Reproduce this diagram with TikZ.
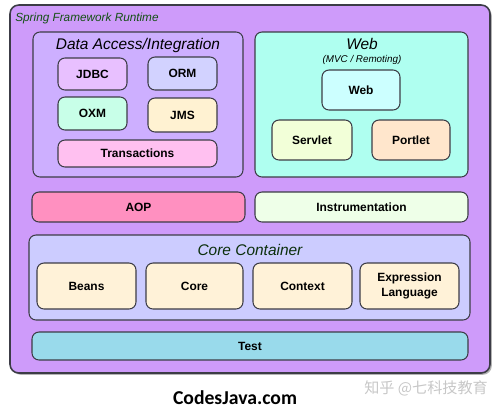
\documentclass[tikz,border=0pt]{standalone}
\usepackage{fontspec}
\setmainfont{Liberation Sans}
\newfontfamily\cjk{Noto Sans CJK SC}
\newfontfamily\calib{Carlito}
\usetikzlibrary{fit,positioning,shadows}
\definecolor{runbg}{RGB}{206,155,250}
\definecolor{dabg}{RGB}{205,175,255}
\definecolor{webbg}{RGB}{175,255,240}
\definecolor{corebg}{RGB}{204,204,255}
\definecolor{jdbcc}{RGB}{232,192,255}
\definecolor{ormc}{RGB}{210,210,255}
\definecolor{oxmc}{RGB}{200,255,232}
\definecolor{jmsc}{RGB}{255,242,210}
\definecolor{txc}{RGB}{255,192,240}
\definecolor{webc}{RGB}{204,255,255}
\definecolor{servc}{RGB}{242,255,216}
\definecolor{portc}{RGB}{255,230,204}
\definecolor{aopc}{RGB}{255,144,192}
\definecolor{instc}{RGB}{238,255,232}
\definecolor{beanc}{RGB}{255,242,216}
\definecolor{testc}{RGB}{153,218,235}
\definecolor{ttlgreen}{RGB}{20,80,20}
\definecolor{edge}{RGB}{60,60,70}

\begin{document}
\begin{tikzpicture}[x=0.02cm, y=-0.02cm,
        grp/.style={draw=edge, line width=0.6pt, rounded corners=4pt, inner sep=0pt},
        lbl/.style={font=\fontsize{6.8}{8.2}\selectfont\bfseries, align=center, inner sep=0pt},
        mod/.style={grp, label={[lbl]center:{#1}}},
        ttl/.style={font=\fontsize{8.8}{10}\selectfont\itshape, inner sep=0pt}
    ]
    \useasboundingbox (0,0) rectangle (500,413);
    % outer frame
    \node[grp, fill=runbg, line width=0.9pt, rounded corners=5pt,
        drop shadow={shadow xshift=1pt, shadow yshift=-1pt, opacity=0.6},
        fit={(10,5) (490,373)}] (run) {};
    \node[anchor=west, inner sep=0pt, text=ttlgreen,
        font=\fontsize{6.7}{8}\selectfont\itshape] (runT) at (15,18) {Spring Framework Runtime};

    % data access / integration
    \node[grp, fill=dabg, fit={(33,32) (243,177)}] (da) {};
    \node[ttl] (daT) at (138,45) {Data Access/Integration};
    \node[mod=JDBC, fill=jdbcc, fit={(58,58) (127,90)}] (jdbc) {};
    \node[mod=ORM, fill=ormc, fit={(148,57) (217,90)}] (orm) {};
    \node[mod=OXM, fill=oxmc, fit={(58,97) (127,130)}] (oxm) {};
    \node[mod=JMS, fill=jmsc, fit={(148,98) (217,132)}] (jms) {};
    \node[mod=Transactions, fill=txc, fit={(58,140) (217,167)}] (tx) {};

    % web
    \node[grp, fill=webbg, fit={(255,32) (468,177)}] (web) {};
    \node[ttl] (webT) at (362,44) {Web};
    \node[inner sep=0pt, font=\fontsize{5.6}{7}\selectfont\itshape] (webS) at (362,60) {(MVC / Remoting)};
    \node[mod=Web, fill=webc, fit={(322,70) (400,110)}] (webm) {};
    \node[mod=Servlet, fill=servc, fit={(272,120) (352,160)}] (serv) {};
    \node[mod=Portlet, fill=portc, fit={(372,120) (450,160)}] (port) {};

    % aop / instrumentation
    \node[mod=AOP, fill=aopc, fit={(32,192) (245,222)}] (aop) {};
    \node[mod=Instrumentation, fill=instc, fit={(255,192) (468,222)}] (inst) {};

    % core container
    \node[grp, fill=corebg, fit={(29,235) (470,320)}] (core) {};
    \node[ttl, text=ttlgreen!60!black] (coreT) at (250,250) {Core Container};
    \foreach \nm/\xa/\xb/\tx in {beans/37/136/Beans, cor/146/243/Core, ctx/253/352/Context,
        el/360/459/{Expression\\Language}}
    {
        \node[mod=\tx, fill=beanc, fit={(\xa,263) (\xb,309)}] (\nm) {};
    }

    % test
    \node[mod=Test, fill=testc, fit={(32,332) (468,360)}] (test) {};

    % footer
    \node[inner sep=0pt, font=\calib\fontsize{11.2}{13}\selectfont\bfseries] (site) at (235,398) {CodesJava.com};
    \node[inner sep=0pt, text=black!22, font=\cjk\fontsize{8.6}{10}\selectfont] (mark) at (426,388) {知乎 @七科技教育};
\end{tikzpicture}
\end{document}
